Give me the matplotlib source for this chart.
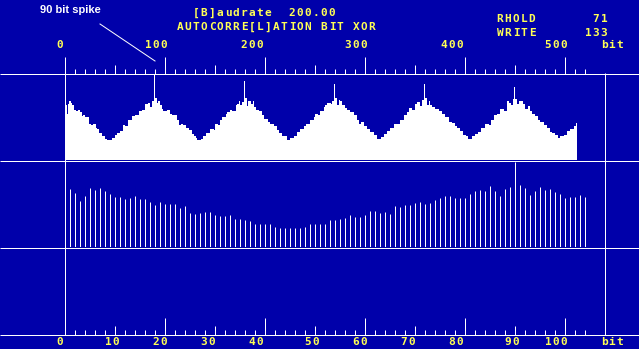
import math
import numpy as np
import matplotlib
matplotlib.use("Agg")
import matplotlib.pyplot as plt
from matplotlib.transforms import blended_transform_factory

# autocorrelation per bit offset 0..512 (screen units, panel is 87 high)
xor_bits = [
    58, 55, 55, 46, 56, 59, 59, 57, 55, 55,
    50, 50, 49, 49, 50, 50, 48, 48, 44, 45,
    45, 43, 43, 43, 43, 36, 36, 35, 35, 36,
    36, 36, 32, 31, 31, 27, 27, 27, 24, 24,
    24, 21, 21, 20, 20, 20, 20, 20, 22, 22,
    22, 25, 25, 27, 27, 27, 29, 29, 29, 35,
    35, 34, 34, 34, 40, 40, 40, 40, 44, 44,
    44, 45, 45, 45, 45, 49, 49, 49, 50, 50,
    50, 56, 56, 56, 57, 57, 53, 53, 59, 59,
    85, 62, 62, 57, 59, 59, 55, 55, 51, 49,
    49, 49, 49, 50, 50, 50, 46, 46, 45, 45,
    45, 45, 45, 40, 40, 35, 35, 36, 36, 35,
    35, 35, 32, 32, 32, 30, 30, 30, 26, 26,
    24, 24, 22, 20, 20, 20, 20, 21, 21, 24,
    24, 24, 27, 27, 27, 27, 31, 31, 31, 31,
    30, 36, 36, 36, 35, 35, 40, 40, 43, 43,
    43, 43, 46, 48, 48, 48, 50, 50, 49, 49,
    49, 49, 55, 56, 56, 59, 55, 55, 58, 58,
    79, 62, 62, 54, 59, 59, 59, 56, 56, 59,
    53, 53, 50, 50, 50, 49, 49, 49, 45, 45,
    41, 41, 41, 41, 38, 38, 36, 36, 36, 36,
    34, 34, 34, 30, 30, 27, 27, 27, 24, 24,
    24, 24, 24, 20, 20, 20, 22, 22, 22, 22,
    24, 24, 24, 28, 28, 28, 31, 31, 31, 31,
    34, 34, 36, 36, 36, 36, 40, 40, 40, 40,
    43, 46, 46, 46, 45, 45, 49, 49, 49, 49,
    53, 55, 55, 57, 57, 57, 57, 56, 59, 59,
    76, 62, 62, 55, 55, 60, 59, 59, 55, 55,
    55, 52, 52, 50, 50, 50, 48, 48, 48, 48,
    45, 45, 45, 40, 40, 36, 36, 38, 38, 38,
    34, 34, 34, 31, 31, 31, 28, 28, 28, 28,
    25, 25, 25, 21, 21, 21, 21, 23, 23, 23,
    26, 26, 26, 29, 29, 29, 32, 32, 32, 32,
    36, 36, 36, 36, 36, 36, 40, 40, 40, 40,
    45, 45, 45, 48, 48, 52, 52, 52, 50, 50,
    50, 56, 56, 58, 58, 58, 54, 54, 60, 60,
    76, 62, 62, 55, 55, 59, 55, 55, 53, 53,
    53, 51, 51, 51, 51, 49, 49, 49, 46, 46,
    46, 43, 43, 43, 43, 38, 38, 38, 37, 37,
    37, 34, 34, 32, 32, 32, 29, 29, 29, 25,
    25, 25, 24, 24, 21, 21, 21, 21, 24, 24,
    24, 26, 26, 26, 28, 28, 28, 32, 32, 32,
    32, 36, 36, 36, 36, 35, 35, 40, 40, 40,
    45, 45, 45, 46, 46, 46, 51, 51, 51, 51,
    49, 49, 49, 59, 59, 57, 57, 55, 55, 61,
    73, 61, 61, 56, 56, 59, 59, 59, 59, 56,
    56, 51, 51, 51, 54, 54, 49, 49, 46, 46,
    46, 44, 44, 44, 40, 40, 38, 38, 38, 38,
    35, 35, 35, 32, 32, 32, 28, 28, 27, 27,
    27, 25, 25, 25, 22, 22, 24, 24, 24, 24,
    25, 25, 25, 29, 29, 29, 31, 31, 31, 31,
    34, 34, 37,
]

# XOR score per lag 1..104
lag_vals = [
    58, 54, 46, 51, 59, 57, 59, 56, 53, 50,
    50, 48, 49, 51, 48, 48, 45, 42, 45, 43,
    43, 43, 39, 41, 34, 33, 34, 35, 35, 32,
    31, 31, 32, 28, 28, 27, 26, 23, 23, 23,
    23, 20, 19, 19, 19, 19, 19, 20, 23, 23,
    23, 23, 27, 27, 28, 29, 32, 30, 30, 32,
    36, 36, 34, 35, 33, 41, 40, 42, 42, 44,
    45, 43, 44, 47, 49, 51, 51, 49, 49, 49,
    53, 56, 57, 56, 61, 56, 51, 58, 60, 85,
    62, 59, 52, 56, 60, 57, 58, 55, 53, 49,
    50, 50, 52, 50,
]

top_labels = [0, 100, 200, 300, 400, 500]
bottom_labels = [0, 10, 20, 30, 40, 50, 60, 70, 80, 90, 100]
baudrate = 200.00
rhold = 71
write = 133

BLUE = "#0000aa"
YELLOW = "#ffff55"
W, H = 639, 349
FONT = dict(family="DejaVu Sans Mono", weight="bold", size=8)

fig = plt.figure(figsize=(W / 100, H / 100), dpi=100, facecolor=BLUE)


def px_axes(x0, y0, x1, y1):
    return fig.add_axes([x0 / W, 1 - y1 / H, (x1 - x0) / W, (y1 - y0) / H])


screen = px_axes(0, 0, W, H)
screen.set_xlim(0, W)
screen.set_ylim(H, 0)
screen.axis("off")

ax_top = px_axes(64.5, 73, 604.5, 160)
ax_mid = px_axes(64.5, 160, 604.5, 247)
ax_top.set_xlim(0, 540)
ax_mid.set_xlim(0, 108)
for ax in (ax_top, ax_mid):
    ax.set_ylim(0, 87)
    ax.axis("off")


def grid_text(x0, y, s, color=YELLOW):
    # 8 px character cells, like the old text mode font
    for i, ch in enumerate(s):
        if ch != " ":
            screen.text(x0 + 8 * i + 4, y, ch, ha="center", va="baseline",
                        color=color, **FONT)


# frame
lw = 0.72
screen.hlines([73.5, 160.5, 247.5, 334.5], 0, W, color="white", lw=lw)
screen.vlines(64.5, 57, 335, color="white", lw=lw)
screen.vlines(604.5, 73, 335, color="white", lw=lw)

# data
ax_top.stairs(xor_bits, np.arange(len(xor_bits) + 1) - 0.5, fill=True,
              color="white", lw=0)
lags = np.arange(1, len(lag_vals) + 1)
ax_mid.vlines(lags, 0, lag_vals, color="white", lw=lw)

# top scale (bits)
tr_top = blended_transform_factory(ax_top.transData, screen.transData)
for v in range(10, 521, 10):
    ln = 16 if v % 100 == 0 else 8 if v % 50 == 0 else 4
    screen.vlines(v, 73 - ln, 73.5, color="white", lw=lw, transform=tr_top)
for v in top_labels:
    s = str(v)
    col = math.ceil((64 + v) / 8) - len(s)
    grid_text(col * 8, 48, s)
grid_text(600, 48, "bit")

# bottom scale (lags)
tr_bot = blended_transform_factory(ax_mid.transData, screen.transData)
for v in range(2, 105, 2):
    ln = 16 if v % 20 == 0 else 8 if v % 10 == 0 else 4
    screen.vlines(v, 334 - ln, 334.5, color="white", lw=lw, transform=tr_bot)
for v in bottom_labels:
    s = str(v)
    col = math.ceil((64 + 5 * v) / 8) - len(s)
    grid_text(col * 8, 345, s)
grid_text(600, 345, "bit")

# header
grid_text(192, 16, f"[B]audrate  {baudrate:.2f}")
grid_text(176, 30, "AUTOCORRE[L]ATION BIT XOR")
grid_text(496, 22, f"RHOLD      {rhold:>3}")
grid_text(496, 36.5, f"WRITE      {write:>3}")

screen.text(40, 13, "90 bit spike", ha="left", va="baseline", color="white",
            family="Liberation Sans", weight="bold", size=8)
screen.plot([100, 155], [24, 61], color="white", lw=lw)

fig.savefig("out.png", dpi=100, facecolor=BLUE)
